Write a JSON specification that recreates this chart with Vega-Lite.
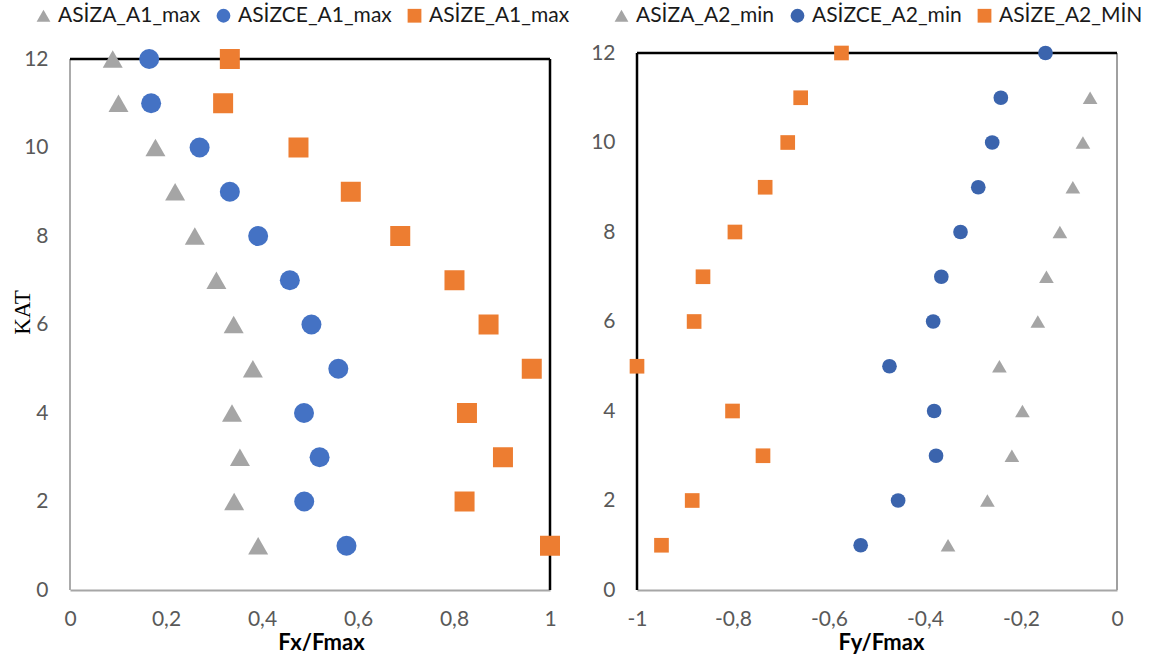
{
  "$schema": "https://vega.github.io/schema/vega-lite/v6.json",
  "padding": {"left": 11, "top": 5, "right": 5, "bottom": 5},
  "background": "white",
  "bounds": "flush",
  "spacing": 87,
  "config": {
    "locale": {"number": {"decimal": ",", "thousands": ".", "grouping": [3], "currency": ["", ""], "minus": "-"}},
    "font": "Lato",
    "view": {"stroke": null},
    "axis": {
      "labelFont": "Lato", "labelFontSize": 21, "labelColor": "#595959", "labelFlush": false,
      "ticks": false, "domain": false,
      "gridColor": "#d9d9d9", "gridWidth": 1.5,
      "titleFont": "Lato", "titleFontSize": 22, "titleFontWeight": "bold", "titleColor": "#000000",
      "format": "~g"
    },
    "legend": {
      "labelFont": "Lato", "labelFontSize": 21, "labelColor": "#1a1a1a",
      "symbolSize": 190, "symbolStrokeWidth": 0, "columnPadding": 12, "labelOffset": 4, "padding": 0, "titlePadding": 0
    }
  },
  "resolve": {"scale": {"color": "independent", "shape": "independent"}},
  "hconcat": [
    {
      "width": 480,
      "height": 537,
      "data": {"values": [
        {"KAT": 12, "series": "ASİZA_A1_max", "value": 0.089},
        {"KAT": 11, "series": "ASİZA_A1_max", "value": 0.101},
        {"KAT": 10, "series": "ASİZA_A1_max", "value": 0.178},
        {"KAT": 9, "series": "ASİZA_A1_max", "value": 0.219},
        {"KAT": 8, "series": "ASİZA_A1_max", "value": 0.260},
        {"KAT": 7, "series": "ASİZA_A1_max", "value": 0.305},
        {"KAT": 6, "series": "ASİZA_A1_max", "value": 0.341},
        {"KAT": 5, "series": "ASİZA_A1_max", "value": 0.381},
        {"KAT": 4, "series": "ASİZA_A1_max", "value": 0.3375},
        {"KAT": 3, "series": "ASİZA_A1_max", "value": 0.354},
        {"KAT": 2, "series": "ASİZA_A1_max", "value": 0.342},
        {"KAT": 1, "series": "ASİZA_A1_max", "value": 0.392},
        {"KAT": 12, "series": "ASİZCE_A1_max", "value": 0.165},
        {"KAT": 11, "series": "ASİZCE_A1_max", "value": 0.169},
        {"KAT": 10, "series": "ASİZCE_A1_max", "value": 0.270},
        {"KAT": 9, "series": "ASİZCE_A1_max", "value": 0.333},
        {"KAT": 8, "series": "ASİZCE_A1_max", "value": 0.392},
        {"KAT": 7, "series": "ASİZCE_A1_max", "value": 0.458},
        {"KAT": 6, "series": "ASİZCE_A1_max", "value": 0.503},
        {"KAT": 5, "series": "ASİZCE_A1_max", "value": 0.559},
        {"KAT": 4, "series": "ASİZCE_A1_max", "value": 0.4875},
        {"KAT": 3, "series": "ASİZCE_A1_max", "value": 0.520},
        {"KAT": 2, "series": "ASİZCE_A1_max", "value": 0.488},
        {"KAT": 1, "series": "ASİZCE_A1_max", "value": 0.576},
        {"KAT": 12, "series": "ASİZE_A1_max", "value": 0.333},
        {"KAT": 11, "series": "ASİZE_A1_max", "value": 0.319},
        {"KAT": 10, "series": "ASİZE_A1_max", "value": 0.476},
        {"KAT": 9, "series": "ASİZE_A1_max", "value": 0.585},
        {"KAT": 8, "series": "ASİZE_A1_max", "value": 0.688},
        {"KAT": 7, "series": "ASİZE_A1_max", "value": 0.801},
        {"KAT": 6, "series": "ASİZE_A1_max", "value": 0.872},
        {"KAT": 5, "series": "ASİZE_A1_max", "value": 0.962},
        {"KAT": 4, "series": "ASİZE_A1_max", "value": 0.827},
        {"KAT": 3, "series": "ASİZE_A1_max", "value": 0.902},
        {"KAT": 2, "series": "ASİZE_A1_max", "value": 0.822},
        {"KAT": 1, "series": "ASİZE_A1_max", "value": 1.0}
      ]},
      "layer": [
        {
          "data": {"values": [{}]},
          "mark": {"type": "rule", "color": "#ababab", "strokeWidth": 2},
          "encoding": {"x": {"datum": 0, "type": "quantitative"}, "y": {"datum": 0, "type": "quantitative"}, "y2": {"datum": 12}}
        },
        {
          "data": {"values": [{}]},
          "mark": {"type": "rule", "color": "#000000", "strokeWidth": 2.5},
          "encoding": {"x": {"datum": 0, "type": "quantitative"}, "x2": {"datum": 1}, "y": {"datum": 12, "type": "quantitative"}}
        },
        {
          "data": {"values": [{}]},
          "mark": {"type": "rule", "color": "#000000", "strokeWidth": 2.5},
          "encoding": {"x": {"datum": 1, "type": "quantitative"}, "y": {"datum": 0, "type": "quantitative"}, "y2": {"datum": 12}}
        },
        {
          "mark": {"type": "point", "filled": true, "size": 400, "opacity": 1},
          "encoding": {
            "x": {
              "field": "value", "type": "quantitative",
              "scale": {"domain": [0, 1], "nice": false, "zero": false},
              "axis": {"title": "Fx/Fmax", "values": [0, 0.2, 0.4, 0.6, 0.8, 1], "labelPadding": 18, "titlePadding": 3, "titleX": 251,
                       "domain": true, "domainColor": "#a6a6a6", "domainWidth": 2}
            },
            "y": {
              "field": "KAT", "type": "quantitative",
              "scale": {"domain": [0, 12.1356], "nice": false, "zero": false},
              "axis": {"title": "KAT", "values": [0, 2, 4, 6, 8, 10, 12], "labelPadding": 22,
                       "titleFont": "Liberation Serif", "titleFontWeight": "normal", "titleFontSize": 23, "titleColor": "#000000",
                       "titleX": -48, "titleY": 259, "titleAngle": -90, "titleAlign": "center", "titleBaseline": "middle"}
            },
            "color": {
              "field": "series", "type": "nominal",
              "scale": {"domain": ["ASİZA_A1_max", "ASİZCE_A1_max", "ASİZE_A1_max"], "range": ["#a5a5a5", "#4472c4", "#ed7d31"]},
              "legend": {"title": null, "orient": "none", "direction": "horizontal", "legendX": -37, "legendY": -48}
            },
            "shape": {
              "field": "series", "type": "nominal",
              "scale": {"domain": ["ASİZA_A1_max", "ASİZCE_A1_max", "ASİZE_A1_max"], "range": ["triangle-up", "circle", "square"]},
              "legend": {"title": null, "orient": "none", "direction": "horizontal", "legendX": -37, "legendY": -48}
            }
          }
        }
      ]
    },
    {
      "width": 480,
      "height": 537,
      "data": {"values": [
        {"KAT": 11, "series": "ASİZA_A2_min", "value": -0.056},
        {"KAT": 10, "series": "ASİZA_A2_min", "value": -0.071},
        {"KAT": 9, "series": "ASİZA_A2_min", "value": -0.092},
        {"KAT": 8, "series": "ASİZA_A2_min", "value": -0.119},
        {"KAT": 7, "series": "ASİZA_A2_min", "value": -0.147},
        {"KAT": 6, "series": "ASİZA_A2_min", "value": -0.165},
        {"KAT": 5, "series": "ASİZA_A2_min", "value": -0.245},
        {"KAT": 4, "series": "ASİZA_A2_min", "value": -0.197},
        {"KAT": 3, "series": "ASİZA_A2_min", "value": -0.219},
        {"KAT": 2, "series": "ASİZA_A2_min", "value": -0.270},
        {"KAT": 1, "series": "ASİZA_A2_min", "value": -0.352},
        {"KAT": 12, "series": "ASİZCE_A2_min", "value": -0.149},
        {"KAT": 11, "series": "ASİZCE_A2_min", "value": -0.242},
        {"KAT": 10, "series": "ASİZCE_A2_min", "value": -0.260},
        {"KAT": 9, "series": "ASİZCE_A2_min", "value": -0.289},
        {"KAT": 8, "series": "ASİZCE_A2_min", "value": -0.326},
        {"KAT": 7, "series": "ASİZCE_A2_min", "value": -0.366},
        {"KAT": 6, "series": "ASİZCE_A2_min", "value": -0.383},
        {"KAT": 5, "series": "ASİZCE_A2_min", "value": -0.474},
        {"KAT": 4, "series": "ASİZCE_A2_min", "value": -0.381},
        {"KAT": 3, "series": "ASİZCE_A2_min", "value": -0.377},
        {"KAT": 2, "series": "ASİZCE_A2_min", "value": -0.456},
        {"KAT": 1, "series": "ASİZCE_A2_min", "value": -0.534},
        {"KAT": 12, "series": "ASİZE_A2_MİN", "value": -0.574},
        {"KAT": 11, "series": "ASİZE_A2_MİN", "value": -0.659},
        {"KAT": 10, "series": "ASİZE_A2_MİN", "value": -0.686},
        {"KAT": 9, "series": "ASİZE_A2_MİN", "value": -0.733},
        {"KAT": 8, "series": "ASİZE_A2_MİN", "value": -0.796},
        {"KAT": 7, "series": "ASİZE_A2_MİN", "value": -0.8625},
        {"KAT": 6, "series": "ASİZE_A2_MİN", "value": -0.881},
        {"KAT": 5, "series": "ASİZE_A2_MİN", "value": -1.0},
        {"KAT": 4, "series": "ASİZE_A2_MİN", "value": -0.801},
        {"KAT": 3, "series": "ASİZE_A2_MİN", "value": -0.7375},
        {"KAT": 2, "series": "ASİZE_A2_MİN", "value": -0.885},
        {"KAT": 1, "series": "ASİZE_A2_MİN", "value": -0.949}
      ]},
      "layer": [
        {
          "data": {"values": [{}]},
          "mark": {"type": "rule", "color": "#a0a0a0", "strokeWidth": 2},
          "encoding": {"x": {"datum": 0, "type": "quantitative"}, "y": {"datum": 0, "type": "quantitative"}, "y2": {"datum": 12}}
        },
        {
          "data": {"values": [{}]},
          "mark": {"type": "rule", "color": "#000000", "strokeWidth": 2.5},
          "encoding": {"x": {"datum": -1, "type": "quantitative"}, "x2": {"datum": 0}, "y": {"datum": 12, "type": "quantitative"}}
        },
        {
          "data": {"values": [{}]},
          "mark": {"type": "rule", "color": "#000000", "strokeWidth": 2.5},
          "encoding": {"x": {"datum": -1, "type": "quantitative"}, "y": {"datum": 0, "type": "quantitative"}, "y2": {"datum": 12}}
        },
        {
          "mark": {"type": "point", "filled": true, "size": 215, "opacity": 1},
          "encoding": {
            "x": {
              "field": "value", "type": "quantitative",
              "scale": {"domain": [-1, 0], "nice": false, "zero": false},
              "axis": {"title": "Fy/Fmax", "values": [-1, -0.8, -0.6, -0.4, -0.2, 0], "labelPadding": 18, "titlePadding": 3, "titleX": 244,
                       "domain": true, "domainColor": "#a6a6a6", "domainWidth": 2}
            },
            "y": {
              "field": "KAT", "type": "quantitative",
              "scale": {"domain": [0, 12], "nice": false, "zero": false},
              "axis": {"title": null, "values": [0, 2, 4, 6, 8, 10, 12], "labelPadding": 22}
            },
            "color": {
              "field": "series", "type": "nominal",
              "scale": {"domain": ["ASİZA_A2_min", "ASİZCE_A2_min", "ASİZE_A2_MİN"], "range": ["#a5a5a5", "#3b64ad", "#ed7d31"]},
              "legend": {"title": null, "orient": "none", "direction": "horizontal", "legendX": -26, "legendY": -48}
            },
            "shape": {
              "field": "series", "type": "nominal",
              "scale": {"domain": ["ASİZA_A2_min", "ASİZCE_A2_min", "ASİZE_A2_MİN"], "range": ["triangle-up", "circle", "square"]},
              "legend": {"title": null, "orient": "none", "direction": "horizontal", "legendX": -26, "legendY": -48}
            }
          }
        }
      ]
    }
  ]
}
